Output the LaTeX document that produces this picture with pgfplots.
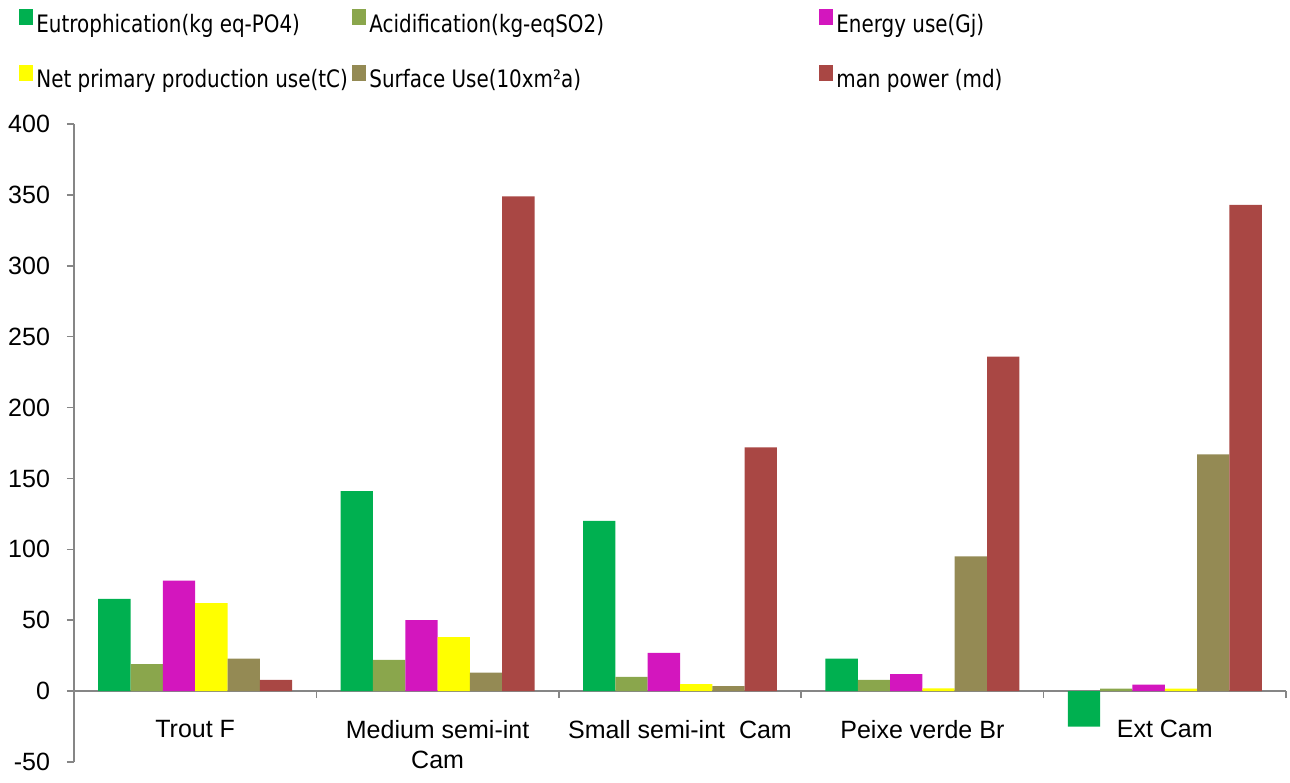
\documentclass[border=0pt]{standalone}
\usepackage{fontspec}
\setmainfont{Liberation Sans}
\newfontfamily\legfont[FakeStretch=0.83]{DejaVu Sans}
\usepackage{pgfplots}
\pgfplotsset{compat=1.18}
\definecolor{cEu}{HTML}{00B050}
\definecolor{cAc}{HTML}{8AA64C}
\definecolor{cEn}{HTML}{D316BE}
\definecolor{cNp}{HTML}{FFFF00}
\definecolor{cSu}{HTML}{948A54}
\definecolor{cMp}{HTML}{A94744}
\definecolor{axgray}{HTML}{868686}
\newcommand{\LE}[2]{\hspace{1.5pt}\makebox[#1][l]{\rule[-3pt]{0pt}{12pt}#2}}
\pgfplotsset{mybox/.style={legend image code/.code={\fill[##1] (0pt,-0.3pt) rectangle (7pt,7.8pt);}}}
\begin{document}
\begin{tikzpicture}
\begin{axis}[
  at={(37pt,10pt)}, anchor=south west,
  scale only axis, width=606pt, height=319pt,
  xmin=-0.5, xmax=4.5, ymin=-50, ymax=400,
  axis x line*=middle, axis y line*=left,
  axis line style={axgray, line width=0.8pt, -},
  ytick={-50,0,50,...,400},
  xtick={0,1,2,3,4},
  xticklabels={Trout F, {Medium semi-int\\Cam}, {Small semi-int\ \ Cam}, Peixe verde Br, Ext Cam},
  xticklabel style={align=center, font=\fontsize{12.5}{15}\selectfont, anchor=north, yshift=-7.5pt},
  major x tick style={draw=none},
  minor xtick={-0.5,0.5,1.5,2.5,3.5,4.5},
  major tick length=3.5pt, minor tick length=3.5pt,
  tick align=outside,
  tick style={axgray, line width=0.8pt},
  minor tick style={axgray, line width=0.8pt},
  yticklabel style={font=\fontsize{12.5}{15}\selectfont, xshift=-5pt},
  /pgf/number format/assume math mode=true,
  legend columns=3,
  legend style={at={(-0.0454,1.181)}, anchor=north west, draw=none, fill=none, inner sep=0pt, column sep=0pt, row sep=14.7pt, nodes={inner sep=0pt, font=\legfont\fontsize{12}{14}\selectfont}},
  ybar, bar width=16.16pt,
]
\addplot[mybox, fill=cEu, draw=none, bar shift=-40.4pt] coordinates {(0,65) (1,141) (2,120) (3,23) (4,-25)};
\addlegendentry{\LE{158pt}{Eutrophication(kg eq-PO4)}}
\addplot[mybox, fill=cAc, draw=none, bar shift=-24.24pt] coordinates {(0,19) (1,22) (2,10) (3,8) (4,1.8)};
\addlegendentry{\LE{225pt}{Acidification(kg-eqSO2)}}
\addplot[mybox, fill=cEn, draw=none, bar shift=-8.08pt] coordinates {(0,78) (1,50) (2,27) (3,12) (4,4.6)};
\addlegendentry{\LE{0pt}{Energy use(Gj)}}
\addplot[mybox, fill=cNp, draw=none, bar shift=8.08pt] coordinates {(0,62) (1,38) (2,5) (3,2) (4,1.8)};
\addlegendentry{\LE{158pt}{Net primary production use(tC)}}
\addplot[mybox, fill=cSu, draw=none, bar shift=24.24pt] coordinates {(0,23) (1,13) (2,3.5) (3,95) (4,167)};
\addlegendentry{\LE{225pt}{Surface Use(10xm²a)}}
\addplot[mybox, fill=cMp, draw=none, bar shift=40.4pt] coordinates {(0,8) (1,349) (2,172) (3,236) (4,343)};
\addlegendentry{\LE{0pt}{man power (md)}}
\end{axis}
\pgfresetboundingbox
\path (0,0) rectangle (645pt,391pt);
\end{tikzpicture}
\end{document}
